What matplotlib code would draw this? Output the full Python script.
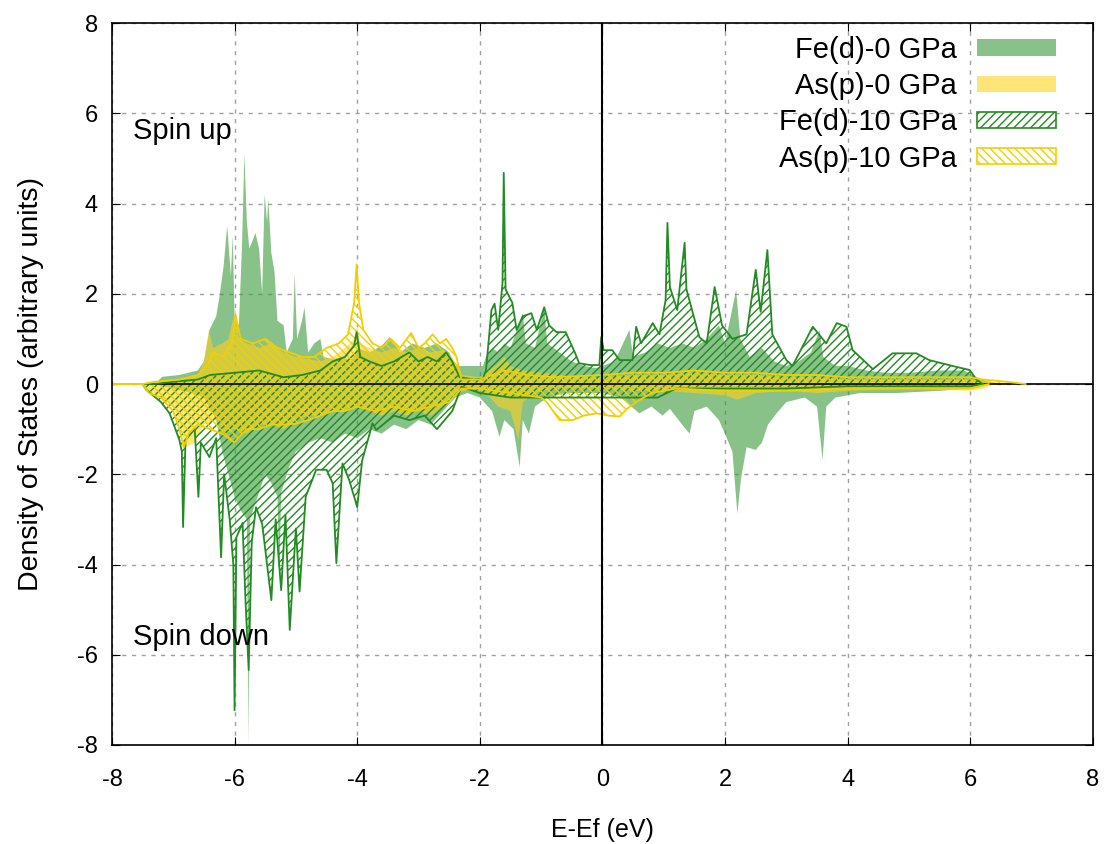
import matplotlib
matplotlib.use('Agg')
import matplotlib.pyplot as plt
from matplotlib.patches import Patch
import numpy as np

plt.rcParams['font.family'] = ['Liberation Sans', 'DejaVu Sans']
plt.rcParams['axes.unicode_minus'] = False
plt.rcParams['hatch.linewidth'] = 1.0

# Fe(d) 0 GPa
fe0_up_e = [-8.0, -7.3, -7.18, -6.9, -6.6, -6.5, -6.41, -6.3, -6.25, -6.18, -6.12, -6.06, -6.03, -6.0,
            -5.93, -5.88, -5.84, -5.8, -5.76, -5.7, -5.66, -5.6, -5.55, -5.51, -5.47, -5.45, -5.4, -5.35,
            -5.3, -5.2, -5.15, -5.05, -5.02, -4.98, -4.9, -4.86, -4.8, -4.7, -4.6, -4.55, -4.4, -4.24,
            -4.1, -4.0, -3.8, -3.6, -3.47, -3.3, -3.1, -2.9, -2.7, -2.5, -2.4, -2.2, -1.95, -1.9, -1.8,
            -1.7, -1.6, -1.5, -1.3, -1.25, -1.1, -0.95, -0.9, -0.7, -0.5, -0.3, -0.1, 0.0, 0.2, 0.44,
            0.5, 0.7, 0.9, 1.1, 1.3, 1.5, 1.7, 1.9, 2.0, 2.18, 2.25, 2.4, 2.6, 2.8, 3.0, 3.2, 3.4, 3.54,
            3.6, 3.8, 4.0, 4.3, 4.6, 5.0, 5.5, 5.9, 6.1, 6.3, 6.5]
fe0_up = [0, 0, 0.16, 0.2, 0.3, 0.5, 1.2, 1.5, 1.9, 2.6, 3.5, 2.4, 3.3, 1.5,
          1.3, 3.0, 5.1, 3.6, 3.0, 3.2, 3.35, 3.0, 2.0, 4.2, 3.6, 4.1, 2.9, 2.5,
          1.4, 1.3, 0.7, 1.0, 2.45, 1.0, 1.4, 1.7, 0.7, 0.9, 1.0, 0.6, 0.55, 0.6,
          0.5, 0.8, 0.7, 0.85, 1.04, 0.7, 0.9, 0.8, 0.9, 0.7, 0.4, 0.4, 0.4, 0.6, 0.8,
          0.7, 0.9, 0.8, 1.57, 0.9, 0.8, 1.7, 0.9, 0.7, 0.5, 0.4, 0.35, 0.4, 0.5, 1.2,
          0.6, 0.7, 0.9, 0.8, 0.9, 0.8, 1.0, 1.3, 0.9, 2.08, 1.0, 0.6, 0.8, 0.5, 0.4, 0.5, 0.7, 1.2,
          0.6, 0.4, 0.4, 0.3, 0.25, 0.25, 0.3, 0.3, 0.15, 0.05, 0]

fe0_dn_e = [-8.0, -7.3, -7.0, -6.7, -6.5, -6.3, -6.2, -6.1, -6.0, -5.9, -5.8, -5.77, -5.75, -5.6,
            -5.5, -5.4, -5.3, -5.27, -5.24, -5.1, -5.0, -4.8, -4.6, -4.4, -4.2, -4.0, -3.8, -3.6,
            -3.4, -3.2, -3.0, -2.8, -2.6, -2.4, -2.2, -2.0, -1.8, -1.68, -1.6, -1.45, -1.35, -1.3,
            -1.2, -1.1, -0.9, -0.6, -0.3, 0.0, 0.3, 0.6, 0.8, 0.98, 1.1, 1.3, 1.42, 1.5, 1.7, 1.9,
            2.02, 2.12, 2.2, 2.26, 2.35, 2.5, 2.6, 2.7, 2.84, 3.0, 3.3, 3.5, 3.59, 3.65, 3.8, 4.2,
            4.8, 5.5, 6.0, 6.3]
fe0_dn = [0, 0, -0.1, -0.2, -0.3, -0.8, -1.5, -2.0, -2.5, -2.8, -3.0, -8.0, -3.0, -2.4,
          -2.0, -2.2, -2.5, -4.35, -2.4, -1.8, -1.5, -1.3, -1.2, -1.3, -1.1, -1.2, -1.0, -1.1,
          -0.9, -1.0, -0.8, -0.9, -0.6, -0.3, -0.2, -0.3, -0.6, -1.17, -0.8, -1.0, -1.84, -0.8,
          -1.1, -0.5, -0.3, -0.2, -0.2, -0.2, -0.3, -0.65, -0.5, -0.7, -0.55, -0.9, -1.1, -0.6, -0.5, -0.8,
          -1.17, -1.5, -2.87, -2.1, -1.4, -1.46, -1.3, -0.9, -0.65, -0.4, -0.3, -0.5, -1.68, -0.5, -0.3, -0.2,
          -0.2, -0.15, -0.1, 0]

# As(p) 0 GPa
as0_up_e = [-8.0, -7.5, -7.3, -6.9, -6.6, -6.5, -6.42, -6.35, -6.2, -6.1, -5.98, -5.93, -5.8, -5.6,
            -5.4, -5.2, -5.0, -4.8, -4.6, -4.4, -4.2, -4.05, -4.0, -3.95, -3.8, -3.6, -3.4, -3.2,
            -3.0, -2.8, -2.6, -2.45, -2.3, -2.0, -1.85, -1.7, -1.6, -1.5, -1.3, -1.0, -0.7, -0.4,
            0.0, 0.5, 1.0, 1.5, 2.0, 2.5, 3.0, 3.5, 4.0, 5.0, 6.0, 6.3, 6.8]
as0_up = [0, 0, 0.05, 0.1, 0.2, 0.5, 1.2, 0.8, 0.9, 1.0, 1.68, 1.0, 0.9, 0.8,
          0.9, 0.7, 0.6, 0.55, 0.5, 0.6, 0.8, 1.0, 1.3, 0.9, 0.8, 0.7, 0.8, 0.7,
          0.8, 0.7, 0.75, 0.6, 0.2, 0.15, 0.3, 0.45, 0.6, 0.4, 0.3, 0.25, 0.2, 0.15,
          0.15, 0.2, 0.2, 0.25, 0.2, 0.2, 0.15, 0.15, 0.1, 0.1, 0.1, 0.05, 0]

as0_dn_e = [-8.0, -7.5, -7.4, -7.2, -7.0, -6.9, -6.8, -6.65, -6.5, -6.3, -6.15, -6.0, -5.8, -5.6,
            -5.4, -5.2, -5.0, -4.8, -4.6, -4.4, -4.2, -4.0, -3.8, -3.6, -3.4, -3.2, -3.0, -2.8,
            -2.6, -2.4, -2.1, -1.9, -1.7, -1.5, -1.37, -1.3, -1.1, -0.8, 0.0, 0.5, 1.0, 1.5,
            2.0, 2.2, 2.5, 3.0, 3.5, 4.0, 5.0, 6.0, 6.2, 6.4]
as0_dn = [0, 0, -0.2, -0.3, -0.5, -0.9, -1.4, -1.3, -0.9, -0.8, -1.1, -1.0, -1.1, -0.9,
          -0.9, -1.0, -0.8, -0.7, -0.7, -0.6, -0.6, -0.5, -0.6, -0.7, -0.6, -0.7, -0.6, -0.7,
          -0.5, -0.2, -0.1, -0.2, -0.5, -0.6, -1.24, -0.4, -0.2, -0.1, -0.1, -0.15, -0.15, -0.2,
          -0.25, -0.35, -0.2, -0.15, -0.2, -0.15, -0.1, -0.15, -0.1, 0]

# Fe(d) 10 GPa
fe10_up_e = [-8.0, -7.3, -7.0, -6.6, -6.4, -6.0, -5.6, -5.2, -4.9, -4.6, -4.4, -4.2, -4.05, -4.01,
             -3.95, -3.8, -3.6, -3.4, -3.15, -3.0, -2.85, -2.7, -2.55, -2.45, -2.33, -2.1, -1.95,
             -1.9, -1.81, -1.76, -1.7, -1.63, -1.61, -1.58, -1.47, -1.4, -1.3, -1.16, -1.07, -0.95,
             -0.87, -0.75, -0.6, -0.45, -0.38, -0.2, -0.05, -0.02, 0.02, 0.16, 0.28, 0.49, 0.55,
             0.63, 0.82, 0.93, 1.03, 1.06, 1.1, 1.22, 1.34, 1.37, 1.58, 1.7, 1.83, 1.95, 2.12, 2.35,
             2.5, 2.58, 2.69, 2.77, 3.0, 3.1, 3.43, 3.65, 3.82, 3.98, 4.08, 4.31, 4.41, 4.73, 5.12,
             5.33, 5.71, 5.99, 6.1, 6.2]
fe10_up = [0, 0, 0.05, 0.1, 0.2, 0.25, 0.3, 0.15, 0.2, 0.3, 0.5, 0.6, 0.85, 1.15,
           0.6, 0.5, 0.4, 0.5, 0.7, 0.5, 0.6, 0.5, 0.7, 0.5, 0.15, 0.1, 0.12,
           0.3, 1.64, 1.78, 1.2, 2.24, 4.68, 2.1, 1.8, 1.2, 1.5, 1.57, 1.2, 1.7,
           1.3, 1.15, 1.15, 0.7, 0.46, 0.42, 0.42, 1.04, 0.75, 0.75, 0.53, 0.53, 1.27,
           0.9, 1.35, 1.1, 1.86, 3.57, 2.15, 1.64, 3.13, 2.1, 1.04, 0.9, 2.15, 1.3, 1.0, 1.1,
           2.53, 1.6, 2.97, 1.1, 0.53, 0.4, 1.27, 0.9, 1.35, 1.27, 0.75, 0.46, 0.33, 0.68, 0.68,
           0.53, 0.4, 0.31, 0.1, 0]

fe10_dn_e = [-8.0, -7.5, -7.44, -7.2, -7.06, -6.9, -6.86, -6.84, -6.8, -6.65, -6.59, -6.55, -6.41,
             -6.3, -6.22, -6.17, -6.08, -6.02, -6.0, -5.97, -5.87, -5.82, -5.77, -5.72, -5.65, -5.55,
             -5.4, -5.33, -5.24, -5.17, -5.1, -5.0, -4.94, -4.84, -4.67, -4.5, -4.4, -4.34, -4.24,
             -4.13, -4.0, -3.92, -3.75, -3.69, -3.4, -3.15, -2.9, -2.7, -2.45, -2.3, -2.0, -1.5,
             -1.0, -0.5, 0.0, 0.5, 0.9, 1.2, 2.0, 3.0, 4.0, 5.0, 6.0, 6.2]
fe10_dn = [0, 0, -0.13, -0.4, -0.65, -1.24, -1.5, -3.17, -1.24, -1.0, -2.5, -1.3, -1.62,
           -1.2, -3.84, -2.0, -3.0, -4.0, -7.23, -3.4, -3.08, -4.86, -6.34, -3.5, -2.73, -3.1,
           -4.79, -3.0, -4.57, -2.9, -5.45, -3.2, -4.6, -2.5, -1.9, -1.9, -2.2, -3.97, -1.76,
           -2.13, -2.73, -1.7, -0.87, -1.02, -0.7, -0.8, -0.7, -1.0, -0.6, -0.06, -0.2, -0.3,
           -0.3, -0.3, -0.3, -0.3, -0.3, -0.1, -0.1, -0.1, -0.05, -0.05, -0.05, 0]

# As(p) 10 GPa
as10_up_e = [-8.0, -7.5, -7.3, -6.9, -6.6, -6.45, -6.35, -6.2, -6.05, -5.98, -5.9, -5.7, -5.5, -5.3,
             -5.1, -4.9, -4.7, -4.5, -4.3, -4.15, -4.05, -4.01, -3.97, -3.9, -3.75, -3.6, -3.45,
             -3.3, -3.12, -3.0, -2.9, -2.77, -2.65, -2.55, -2.45, -2.38, -2.3, -2.0, -1.8, -1.6,
             -1.2, -0.8, 0.0, 0.5, 1.0, 1.5, 2.0, 2.5, 3.0, 3.5, 4.0, 5.0, 6.0, 6.2, 6.6, 6.9]
as10_up = [0, 0, 0.05, 0.1, 0.2, 0.4, 0.7, 0.6, 0.9, 1.5, 1.0, 0.9, 1.0, 0.8,
           0.7, 0.6, 0.6, 0.8, 0.9, 1.1, 1.8, 2.65, 1.8, 1.2, 0.9, 0.8, 1.0,
           0.8, 1.13, 0.8, 0.9, 1.1, 0.9, 1.0, 0.8, 0.6, 0.1, 0.1, 0.2, 0.3,
           0.2, 0.15, 0.2, 0.25, 0.25, 0.3, 0.25, 0.25, 0.2, 0.2, 0.15, 0.15, 0.15, 0.1, 0.05, 0]

as10_dn_e = [-8.0, -7.5, -7.4, -7.2, -7.0, -6.9, -6.83, -6.75, -6.6, -6.4, -6.2, -6.0, -5.95, -5.8,
             -5.6, -5.4, -5.2, -5.0, -4.8, -4.6, -4.4, -4.2, -4.0, -3.7, -3.4, -3.1, -2.8, -2.5,
             -2.3, -2.0, -1.5, -1.0, -0.91, -0.7, -0.49, -0.3, -0.1, 0.1, 0.28, 0.4, 0.55, 0.8,
             1.2, 2.0, 3.0, 4.0, 5.0, 6.0, 6.3]
as10_dn = [0, 0, -0.2, -0.3, -0.6, -1.0, -1.4, -1.1, -0.9, -1.0, -1.1, -1.3, -1.2, -1.0,
           -1.0, -0.9, -0.9, -0.88, -0.8, -0.7, -0.6, -0.6, -0.5, -0.6, -0.5, -0.6, -0.5, -0.4,
           -0.1, -0.1, -0.2, -0.3, -0.4, -0.8, -0.8, -0.7, -0.65, -0.7, -0.72, -0.55, -0.4, -0.2,
           -0.1, -0.15, -0.15, -0.1, -0.1, -0.1, 0]

labels = ['Fe(d)-0 GPa', 'As(p)-0 GPa', 'Fe(d)-10 GPa', 'As(p)-10 GPa']

green_light = '#3a9a3a'
yellow_light = '#ffd21f'
green_dark = '#228b22'
yellow_dark = '#f2cf00'

fig = plt.figure(figsize=(11.04, 8.44), dpi=100)
ax = fig.add_axes([0.1014, 0.1173, 0.8886, 0.8554])

for e, v in [(fe0_up_e, fe0_up), (fe0_dn_e, fe0_dn)]:
    ax.fill_between(e, 0, v, facecolor=green_light, alpha=0.6, linewidth=0)
for e, v in [(as0_up_e, as0_up), (as0_dn_e, as0_dn)]:
    ax.fill_between(e, 0, v, facecolor=yellow_light, alpha=0.6, linewidth=0)
for e, v in [(fe10_up_e, fe10_up), (fe10_dn_e, fe10_dn)]:
    ax.fill_between(e, 0, v, facecolor='none', edgecolor=green_dark, hatch='////', linewidth=0)
    ax.plot(e, v, color=green_dark, linewidth=1.3)
for e, v in [(as10_up_e, as10_up), (as10_dn_e, as10_dn)]:
    ax.fill_between(e, 0, v, facecolor='none', edgecolor=yellow_dark, hatch='\\\\\\\\', linewidth=0)
    ax.plot(e, v, color=yellow_dark, linewidth=1.3)

ax.axhline(0, color='black', linewidth=1.2, zorder=1)
ax.axvline(0, color='black', linewidth=1.5, zorder=5)

ax.set_xlim(-8, 8)
ax.set_ylim(-8, 8)
ax.set_xticks(np.arange(-8, 9, 2))
ax.set_yticks(np.arange(-8, 9, 2))
ax.tick_params(direction='in', top=True, right=True, length=6, labelsize=17)
ax.tick_params(axis='x', pad=17)
ax.tick_params(axis='y', pad=10)
ax.grid(True, color='#a0a0a0', linestyle=(0, (3, 4)), linewidth=1.0)
ax.set_axisbelow(True)
for s in ax.spines.values():
    s.set_linewidth(1.2)

ax.set_xlabel('E-Ef (eV)', fontsize=18, labelpad=20)
ax.set_ylabel('Density of States (arbitrary units)', fontsize=20.5, labelpad=24)

ax.text(-7.65, 5.6, 'Spin up', fontsize=21, va='center', ha='left')
ax.text(-7.65, -5.6, 'Spin down', fontsize=21, va='center', ha='left')

handles = [
    Patch(facecolor=green_light, alpha=0.6, linewidth=0),
    Patch(facecolor=yellow_light, alpha=0.6, linewidth=0),
    Patch(facecolor='white', edgecolor=green_dark, hatch='////', linewidth=1.2),
    Patch(facecolor='white', edgecolor=yellow_dark, hatch='\\\\\\\\', linewidth=1.2),
]
leg = ax.legend(handles, labels, loc='upper right', bbox_to_anchor=(0.962, 0.982), frameon=False,
                markerfirst=False, fontsize=21, handlelength=2.7, handleheight=0.5,
                labelspacing=0.28, handletextpad=0.7, borderpad=0, borderaxespad=0)
leg.set_zorder(10)

fig.savefig('out.png', dpi=100)
